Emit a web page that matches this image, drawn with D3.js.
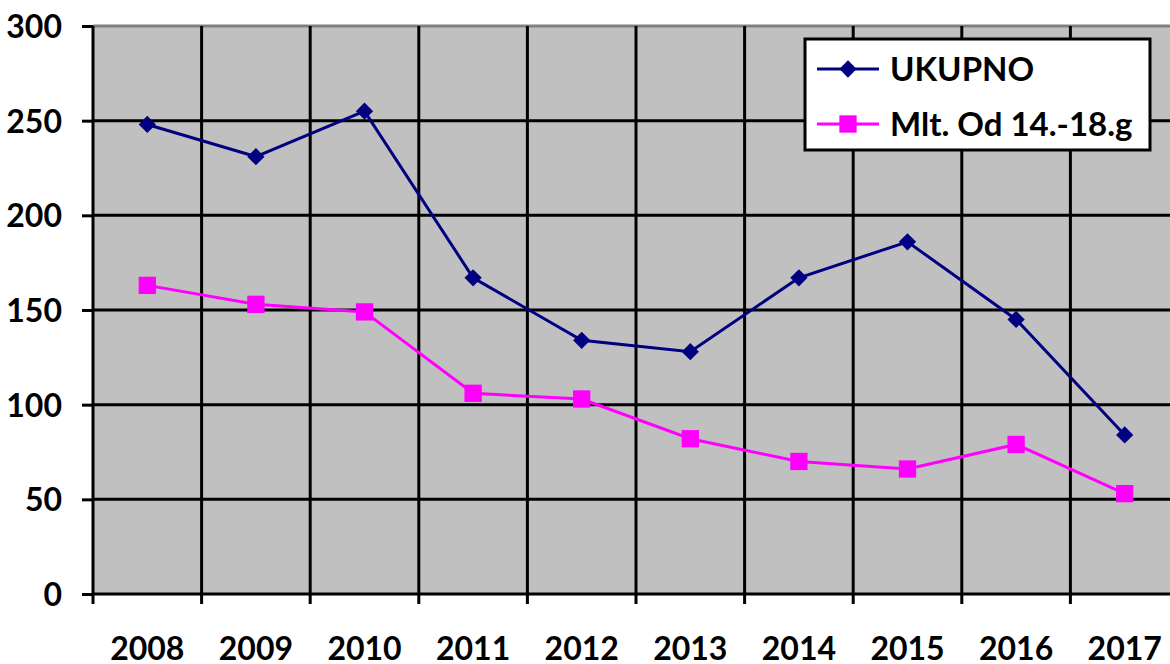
<!DOCTYPE html>
<html>
<head>
<meta charset="utf-8">
<script src="https://cdn.jsdelivr.net/npm/d3@7"></script>
<style>
  body { margin: 0; background: #fff; }
  svg { display: block; }
  text { font-family: Lato, "Open Sans", sans-serif; font-weight: bold; fill: #000; }
</style>
</head>
<body>
<div id="chart"></div>
<script>
// chart data
const years = ["2008", "2009", "2010", "2011", "2012", "2013", "2014", "2015", "2016", "2017"];
const ukupno = [248, 231, 255, 167, 134, 128, 167, 186, 145, 84];
const mlt = [163, 153, 149, 106, 103, 82, 70, 66, 79, 53];
const yTicks = [0, 50, 100, 150, 200, 250, 300];
const seriesNames = ["UKUPNO", "Mlt. Od 14.-18.g"];

const width = 1170, height = 664;
const plot = { left: 93, right: 1179, top: 26, bottom: 594 };

const svg = d3.select("#chart")
    .append("svg")
    .attr("width", width)
    .attr("height", height);

const x = d3.scaleBand().domain(years).range([plot.left, plot.right]);
const y = d3.scaleLinear().domain([0, 300]).range([plot.bottom, plot.top]);

// plot background
svg.append("rect")
    .attr("x", plot.left)
    .attr("y", plot.top)
    .attr("width", plot.right - plot.left)
    .attr("height", plot.bottom - plot.top)
    .attr("fill", "#c0c0c0");

// horizontal gridlines
svg.selectAll(".hgrid")
    .data(yTicks.filter(d => d > 0 && d < 300))
    .enter()
    .append("line")
    .attr("x1", plot.left).attr("x2", plot.right)
    .attr("y1", d => y(d)).attr("y2", d => y(d))
    .attr("stroke", "#000")
    .attr("stroke-width", 3);

// top border (grey)
svg.append("line")
    .attr("x1", plot.left).attr("x2", plot.right)
    .attr("y1", y(300)).attr("y2", y(300))
    .attr("stroke", "#808080")
    .attr("stroke-width", 3);

// vertical gridlines at category boundaries
svg.selectAll(".vgrid")
    .data(years.slice(1))
    .enter()
    .append("line")
    .attr("x1", d => x(d)).attr("x2", d => x(d))
    .attr("y1", plot.top).attr("y2", plot.bottom + 10)
    .attr("stroke", "#000")
    .attr("stroke-width", 3);

// y axis
const yAxis = svg.append("g")
    .attr("transform", `translate(${plot.left},0)`)
    .call(d3.axisLeft(y).tickValues(yTicks).tickSize(11).tickPadding(20));
yAxis.select(".domain").attr("stroke", "#000").attr("stroke-width", 3)
    .attr("d", `M0,${plot.top}V${plot.bottom + 10}`);
yAxis.selectAll(".tick line").attr("stroke", "#000").attr("stroke-width", 3);
yAxis.selectAll(".tick text")
    .style("font-family", "Lato, sans-serif")
    .style("font-weight", "bold")
    .style("font-size", "32px")
    .attr("dy", "0.36em");

// x axis
const xAxis = svg.append("g")
    .attr("transform", `translate(0,${plot.bottom})`)
    .call(d3.axisBottom(x).tickSize(0));
xAxis.select(".domain").attr("stroke", "#000").attr("stroke-width", 3)
    .attr("d", `M${plot.left},0H${plot.right}`);
xAxis.selectAll(".tick text")
    .style("font-family", "Lato, sans-serif")
    .style("font-weight", "bold")
    .style("font-size", "32px")
    .attr("y", 66)
    .attr("dy", 0);

// series
const cx = d => x(d) + x.bandwidth() / 2;
const line = d3.line().x((d, i) => cx(years[i])).y(d => y(d));

svg.append("path")
    .datum(ukupno)
    .attr("d", line)
    .attr("fill", "none")
    .attr("stroke", "#000080")
    .attr("stroke-width", 3);

svg.append("path")
    .datum(mlt)
    .attr("d", line)
    .attr("fill", "none")
    .attr("stroke", "#ff00ff")
    .attr("stroke-width", 3);

const diamond = d3.symbol().type(d3.symbolDiamond2).size(190);
const square = d3.symbol().type(d3.symbolSquare).size(300);

svg.selectAll(".m1")
    .data(ukupno)
    .enter()
    .append("path")
    .attr("d", diamond)
    .attr("transform", (d, i) => `translate(${cx(years[i])},${y(d)})`)
    .attr("fill", "#000080");

svg.selectAll(".m2")
    .data(mlt)
    .enter()
    .append("path")
    .attr("d", square)
    .attr("transform", (d, i) => `translate(${cx(years[i])},${y(d)})`)
    .attr("fill", "#ff00ff");

// legend
const legend = svg.append("g").attr("transform", "translate(805,39)");
legend.append("rect")
    .attr("width", 345).attr("height", 111)
    .attr("fill", "#fff")
    .attr("stroke", "#000")
    .attr("stroke-width", 3);

const legendItems = [
    { name: seriesNames[0], color: "#000080", sym: diamond, cy: 30 },
    { name: seriesNames[1], color: "#ff00ff", sym: square, cy: 85 }
];
legendItems.forEach(it => {
    legend.append("line")
        .attr("x1", 12).attr("x2", 74)
        .attr("y1", it.cy).attr("y2", it.cy)
        .attr("stroke", it.color).attr("stroke-width", 3);
    legend.append("path")
        .attr("d", it.sym)
        .attr("transform", `translate(43,${it.cy})`)
        .attr("fill", it.color);
    legend.append("text")
        .attr("x", 85).attr("y", it.cy)
        .attr("dy", "0.36em")
        .style("font-size", "33px")
        .text(it.name);
});
</script>
</body>
</html>
